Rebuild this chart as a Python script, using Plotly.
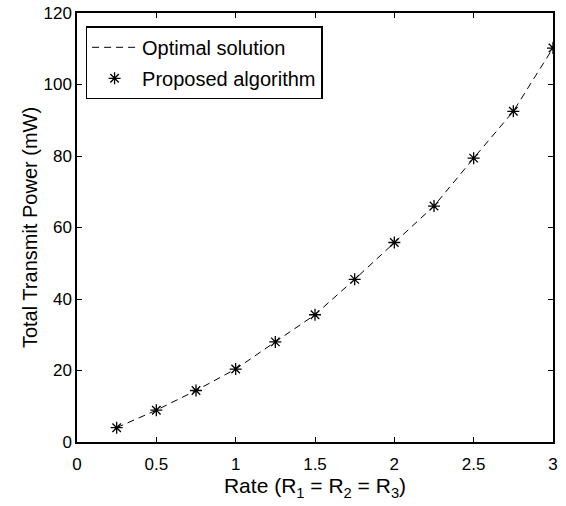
import plotly.graph_objects as go

rate = [0.25, 0.5, 0.75, 1.0, 1.25, 1.5, 1.75, 2.0, 2.25, 2.5, 2.75, 3.0]
optimal_power = [4.0, 8.9, 14.4, 20.4, 28.0, 35.6, 45.5, 55.8, 66.0, 79.4, 92.5, 110.2]
proposed_power = [4.0, 8.9, 14.4, 20.4, 28.0, 35.6, 45.5, 55.8, 66.0, 79.4, 92.5, 110.2]

x_ticks = [0, 0.5, 1, 1.5, 2, 2.5, 3]
x_tick_labels = ["0", "0.5", "1", "1.5", "2", "2.5", "3"]
y_ticks = [0, 20, 40, 60, 80, 100, 120]

font_family = "Liberation Sans, Arial, Helvetica, sans-serif"

fig = go.Figure()
fig.add_trace(go.Scatter(
    x=rate, y=optimal_power, mode="lines", name="Optimal solution",
    legendgroup="a",
    line=dict(color="black", width=1, dash="7px,5px"),
))
fig.add_trace(go.Scatter(
    x=rate, y=proposed_power, mode="markers", name="Proposed algorithm",
    legendgroup="b",
    marker=dict(symbol="asterisk-open", size=10, color="black",
                line=dict(color="black", width=1.3)),
))

axis_common = dict(
    showline=True, linecolor="black", linewidth=1.5, mirror="ticks",
    ticks="inside", ticklen=5, tickcolor="black", tickwidth=1,
    showgrid=False, zeroline=False, automargin=False,
    ticklabeloverflow="allow",
    tickfont=dict(size=17, color="black", family=font_family),
)

fig.update_xaxes(
    range=[0, 3], tickvals=x_ticks, ticktext=x_tick_labels,
    ticklabelstandoff=6,
    title=dict(text="Rate (R<sub>1</sub> = R<sub>2</sub> = R<sub>3</sub>)",
               font=dict(size=21, color="black", family=font_family), standoff=0),
    **axis_common,
)
fig.update_yaxes(
    range=[0, 120], tickvals=y_ticks,
    title=dict(text="Total Transmit Power (mW)",
               font=dict(size=20, color="black", family=font_family), standoff=0),
    **axis_common,
)

fig.update_layout(
    width=566, height=506,
    margin=dict(l=77, r=13, t=12.5, b=63.5),
    paper_bgcolor="white", plot_bgcolor="white",
    font=dict(family=font_family, color="black"),
    showlegend=True,
    legend=dict(
        x=0.018, y=0.969, xanchor="left", yanchor="top",
        bgcolor="white", bordercolor="black", borderwidth=1.5,
        font=dict(size=20, color="black", family=font_family),
        itemwidth=45, tracegroupgap=2,
    ),
)

fig.write_html("out.html", config={"displayModeBar": False},
               post_script="document.body.style.margin='0';")
